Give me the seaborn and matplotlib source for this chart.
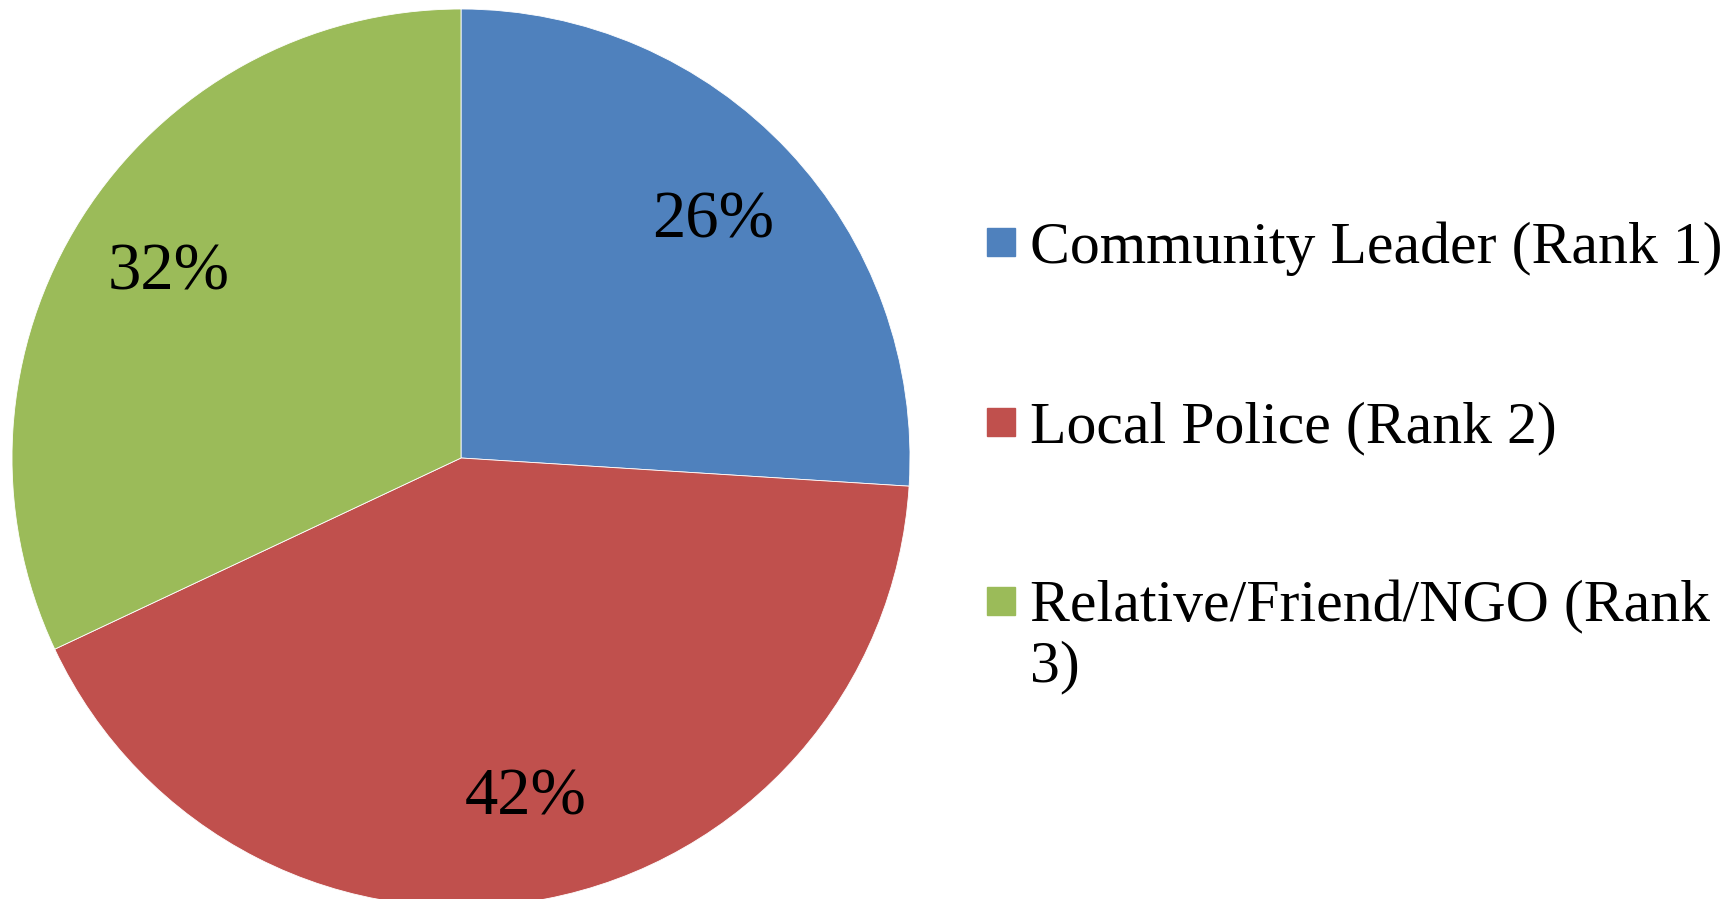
# Pie chart: who do people turn to (ranked)

import matplotlib
matplotlib.use('Agg')
import matplotlib.pyplot as plt
from matplotlib.lines import Line2D
import seaborn as sns

# Data
categorias = ['Community Leader (Rank 1)', 'Local Police (Rank 2)', 'Relative/Friend/NGO (Rank\n3)']
porcentajes = [26, 42, 32]
colores = ['#4F81BD', '#C0504D', '#9BBB59']

# Style
sns.set_theme(style="white")
plt.rcParams['font.family'] = ['Liberation Serif', 'DejaVu Serif']
plt.rcParams['text.color'] = 'black'

fig = plt.figure(figsize=(17.28, 8.99), dpi=100)
ax = fig.add_axes([12 / 1728, -8 / 899, 898 / 1728, 898 / 899])

wedges, texts, autotexts = ax.pie(
    porcentajes, colors=colores, startangle=90, counterclock=False,
    autopct='%1.0f%%', pctdistance=0.77, radius=1,
    wedgeprops=dict(edgecolor='white', linewidth=0.6),
    textprops=dict(fontsize=48, color='black'))
ax.set_xlim(-1, 1)
ax.set_ylim(-1, 1)
ax.set_aspect('equal')

# Legend
handles = [Line2D([], [], linestyle='none', marker='s', markersize=20,
                  markerfacecolor=c, markeredgecolor=c) for c in colores]
leg = fig.legend(handles, categorias, loc='upper left',
                 bbox_to_anchor=(988 / 1728, 1 - 221 / 899),
                 frameon=False, fontsize=43, handlelength=0.45,
                 handletextpad=0.25, labelspacing=2.1, borderpad=0,
                 borderaxespad=0, numpoints=1)
for t in leg.get_texts():
    t.set_linespacing(1.15)
    t.set_color('black')
# align the swatch with the first line of a wrapped label
for col in leg._legend_handle_box.get_children():
    for item in col.get_children():
        item.align = 'top'

fig.savefig('out.png', dpi=100)
